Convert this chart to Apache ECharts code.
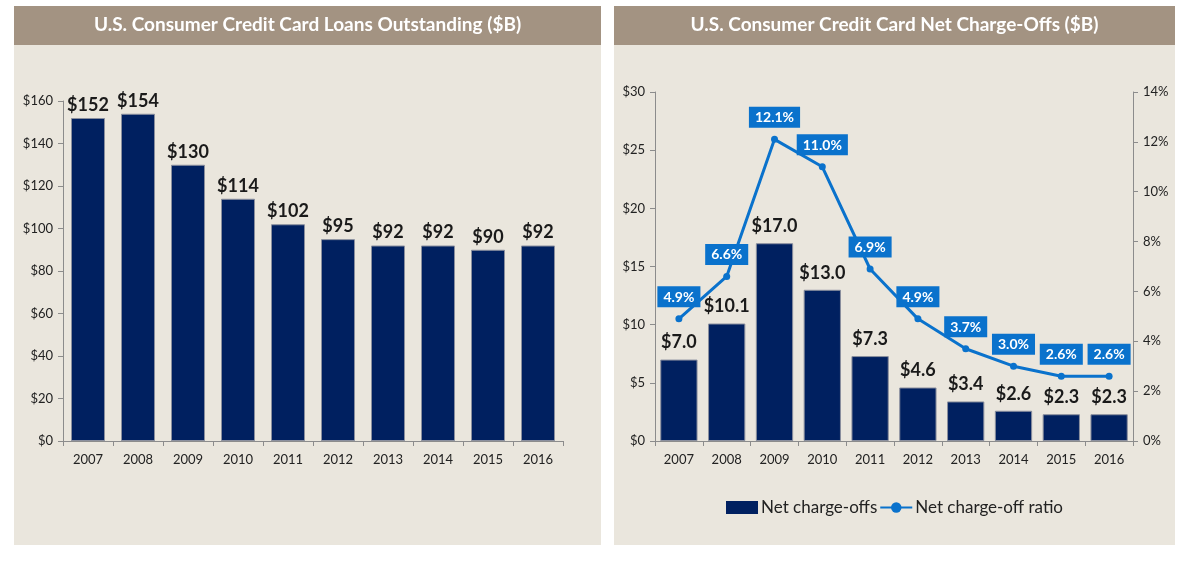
<!DOCTYPE html>
<html>
<head>
<meta charset="utf-8">
<script src="https://cdn.jsdelivr.net/npm/echarts@6/dist/echarts.min.js"></script>
<style>
  body { margin: 0; background: #fff; width: 1196px; height: 564px; position: relative; overflow: hidden; }
  .panel { position: absolute; top: 6px; height: 539px; background: #EAE6DD; }
</style>
</head>
<body>
<div id="leftChart" class="panel" style="left:14px;width:587px;"></div>
<div id="rightChart" class="panel" style="left:614px;width:561px;"></div>
<script>
// data
const years = ['2007', '2008', '2009', '2010', '2011', '2012', '2013', '2014', '2015', '2016'];
const loansOutstanding = [152, 154, 130, 114, 102, 95, 92, 92, 90, 92];
const netChargeOffs = [7.0, 10.1, 17.0, 13.0, 7.3, 4.6, 3.4, 2.6, 2.3, 2.3];
const chargeOffRatio = [4.9, 6.6, 12.1, 11.0, 6.9, 4.9, 3.7, 3.0, 2.6, 2.6];

const FONT = 'Lato, "Open Sans", sans-serif';
const NAVY = '#002060';
const BLUE = '#0A72CC';
const TITLE_BG = '#A39382';

function titleBar(text, width) {
    return [
        { type: 'rect', left: 0, top: 0, shape: { width: width, height: 39 }, style: { fill: TITLE_BG }, silent: true },
        { type: 'text', left: 'center', top: 9, style: { text: text, fill: '#fff', font: 'bold 19px ' + FONT } }
    ];
}

const axisLineStyle = { show: true, lineStyle: { color: '#8c8c8c', width: 1 } };
const axisTick = { show: true, length: 5, lineStyle: { color: '#8c8c8c' } };

// 左图
const leftChart = echarts.init(document.getElementById('leftChart'));
leftChart.setOption({
    backgroundColor: 'transparent',
    textStyle: { fontFamily: FONT },
    graphic: titleBar('U.S. Consumer Credit Card Loans Outstanding ($B)', 587),
    grid: { left: 49, right: 38, top: 95, bottom: 104 },
    xAxis: {
        type: 'category',
        data: years,
        axisLine: axisLineStyle,
        axisTick: axisTick,
        axisLabel: { color: '#222', fontSize: 13, margin: 12, fontFamily: FONT }
    },
    yAxis: {
        type: 'value',
        min: 0, max: 160, interval: 20,
        axisLine: axisLineStyle,
        axisTick: axisTick,
        splitLine: { show: false },
        axisLabel: { color: '#222', fontSize: 13, margin: 10, fontFamily: FONT, formatter: v => '$' + v }
    },
    series: [{
        type: 'bar',
        data: loansOutstanding,
        barCategoryGap: '32%',
        itemStyle: { color: NAVY, borderColor: '#8a8f9e', borderWidth: 1 },
        label: {
            show: true, position: 'top', distance: 4,
            color: '#1a1a1a', fontSize: 18, fontWeight: 'bold', fontFamily: FONT,
            formatter: p => '$' + p.value
        }
    }]
});

// 右图
const rightChart = echarts.init(document.getElementById('rightChart'));
rightChart.setOption({
    backgroundColor: 'transparent',
    textStyle: { fontFamily: FONT },
    graphic: titleBar('U.S. Consumer Credit Card Net Charge-Offs ($B)', 561),
    grid: { left: 41, right: 42, top: 86, bottom: 104 },
    legend: {
        bottom: 24, left: 'center',
        itemGap: 2, itemWidth: 32, itemHeight: 13,
        textStyle: { color: '#222', fontSize: 17, fontFamily: FONT, padding: [0, 0, 0, -2] },
        data: [
            { name: 'Net charge-offs', icon: 'rect', itemStyle: { borderWidth: 0 } },
            { name: 'Net charge-off ratio' }
        ]
    },
    xAxis: {
        type: 'category',
        data: years,
        axisLine: axisLineStyle,
        axisTick: axisTick,
        axisLabel: { color: '#222', fontSize: 13, margin: 12, fontFamily: FONT }
    },
    yAxis: [{
        type: 'value',
        min: 0, max: 30, interval: 5,
        axisLine: axisLineStyle,
        axisTick: axisTick,
        splitLine: { show: false },
        axisLabel: { color: '#222', fontSize: 13, margin: 10, fontFamily: FONT, formatter: v => '$' + v }
    }, {
        type: 'value',
        min: 0, max: 14, interval: 2,
        position: 'right',
        axisLine: axisLineStyle,
        axisTick: axisTick,
        splitLine: { show: false },
        axisLabel: { color: '#222', fontSize: 13, margin: 10, fontFamily: FONT, formatter: v => v + '%' }
    }],
    series: [{
        name: 'Net charge-offs',
        type: 'bar',
        data: netChargeOffs,
        barCategoryGap: '22%',
        itemStyle: { color: NAVY, borderColor: '#8a8f9e', borderWidth: 1 },
        label: {
            show: true, position: 'top', distance: 8,
            color: '#1a1a1a', fontSize: 18, fontWeight: 'bold', fontFamily: FONT,
            formatter: p => '$' + p.value.toFixed(1)
        }
    }, {
        name: 'Net charge-off ratio',
        type: 'line',
        yAxisIndex: 1,
        data: chargeOffRatio,
        color: BLUE,
        lineStyle: { color: BLUE, width: 3 },
        itemStyle: { color: BLUE },
        symbol: 'circle',
        symbolSize: 7,
        z: 5,
        label: {
            show: true, position: 'top', distance: 8,
            color: '#fff', backgroundColor: BLUE,
            padding: [4, 6, 3, 6],
            fontSize: 14, fontWeight: 'bold', fontFamily: FONT,
            formatter: p => p.value.toFixed(1) + '%'
        }
    }]
});
</script>
</body>
</html>
